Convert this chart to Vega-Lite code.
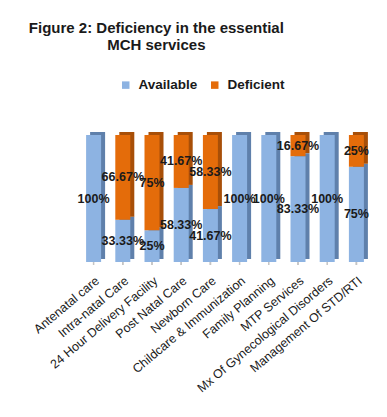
{
  "$schema": "https://vega.github.io/schema/vega-lite/v6.json",
  "width": 292,
  "height": 127,
  "autosize": {"type": "none"},
  "padding": {"left": 79, "top": 135, "right": 16, "bottom": 155},
  "background": "white",
  "title": {
    "text": ["Figure 2: Deficiency in the essential", "MCH services"],
    "anchor": "start",
    "align": "center",
    "dx": 125,
    "offset": 10,
    "baseline": "bottom",
    "lineHeight": 17,
    "font": "Liberation Sans",
    "fontSize": 15,
    "fontWeight": "bold",
    "color": "#1a1a1a"
  },
  "data": {
    "values": [
      {"service": "Antenatal care", "status": "Available", "value": 1},
      {"service": "Intra-natal Care", "status": "Available", "value": 0.3333},
      {"service": "Intra-natal Care", "status": "Deficient", "value": 0.6667},
      {"service": "24 Hour Delivery Facility", "status": "Available", "value": 0.25},
      {"service": "24 Hour Delivery Facility", "status": "Deficient", "value": 0.75},
      {"service": "Post Natal Care", "status": "Available", "value": 0.5833},
      {"service": "Post Natal Care", "status": "Deficient", "value": 0.4167},
      {"service": "Newborn Care", "status": "Available", "value": 0.4167},
      {"service": "Newborn Care", "status": "Deficient", "value": 0.5833},
      {"service": "Childcare & Immunization", "status": "Available", "value": 1},
      {"service": "Family Planning", "status": "Available", "value": 1},
      {"service": "MTP Services", "status": "Available", "value": 0.8333},
      {"service": "MTP Services", "status": "Deficient", "value": 0.1667},
      {"service": "Mx Of Gynecological Disorders", "status": "Available", "value": 1},
      {"service": "Management Of STD/RTI", "status": "Available", "value": 0.75},
      {"service": "Management Of STD/RTI", "status": "Deficient", "value": 0.25}
    ]
  },
  "encoding": {
    "x": {
      "field": "service",
      "type": "nominal",
      "sort": null,
      "axis": {
        "title": null,
        "domain": false,
        "ticks": false,
        "labelAngle": -40,
        "labelPadding": 12,
        "labelFont": "Liberation Sans",
        "labelFontSize": 12.5,
        "labelColor": "#1a1a1a",
        "labelLimit": 300
      }
    }
  },
  "layer": [
    {
      "mark": {"type": "rule", "color": "#c4c4c4", "strokeWidth": 1.5, "yOffset": 3},
      "encoding": {"y": {"datum": 0, "type": "quantitative", "scale": {"domain": [0, 1]}, "axis": null}}
    },
    {
      "mark": {"type": "bar", "width": 15, "xOffset": 4, "yOffset": -3},
      "encoding": {
        "y": {"field": "value", "type": "quantitative", "stack": "zero", "scale": {"domain": [0, 1]}, "axis": null},
        "order": {"field": "status", "sort": "ascending"},
        "color": {
          "field": "status",
          "type": "nominal",
          "scale": {"domain": ["Available", "Deficient"], "range": ["#5f80ab", "#a84f08"]},
          "legend": null
        }
      }
    },
    {
      "mark": {"type": "bar", "width": 15},
      "encoding": {
        "y": {"field": "value", "type": "quantitative", "stack": "zero", "scale": {"domain": [0, 1]}, "axis": null},
        "order": {"field": "status", "sort": "ascending"},
        "color": {
          "field": "status",
          "type": "nominal",
          "scale": {"domain": ["Available", "Deficient"], "range": ["#8db3e2", "#e46c0a"]},
          "legend": {
            "title": null,
            "orient": "none",
            "legendX": 40,
            "legendY": -57,
            "direction": "horizontal",
            "symbolType": "square",
            "symbolSize": 56,
            "symbolStrokeWidth": 0,
            "labelFont": "Liberation Sans",
            "labelFontSize": 13.5,
            "labelFontWeight": "bold",
            "labelColor": "#1a1a1a",
            "labelOffset": 6,
            "columnPadding": 10
          }
        }
      }
    },
    {
      "transform": [
        {"stack": "value", "groupby": ["service"], "sort": [{"field": "status"}], "as": ["v0", "v1"]},
        {"fold": ["v0", "v1"], "as": ["edge", "pos"]},
        {"aggregate": [{"op": "mean", "field": "pos", "as": "mid"}, {"op": "max", "field": "value", "as": "share"}], "groupby": ["service", "status"]}
      ],
      "mark": {"type": "text", "font": "Liberation Sans", "fontSize": 12.5, "fontWeight": "bold", "color": "#1a1a1a"},
      "encoding": {
        "y": {"field": "mid", "type": "quantitative", "scale": {"domain": [0, 1]}, "axis": null},
        "text": {"field": "share", "type": "quantitative", "format": ".4~%"}
      }
    }
  ],
  "resolve": {"scale": {"color": "independent"}},
  "config": {"view": {"stroke": null}}
}
